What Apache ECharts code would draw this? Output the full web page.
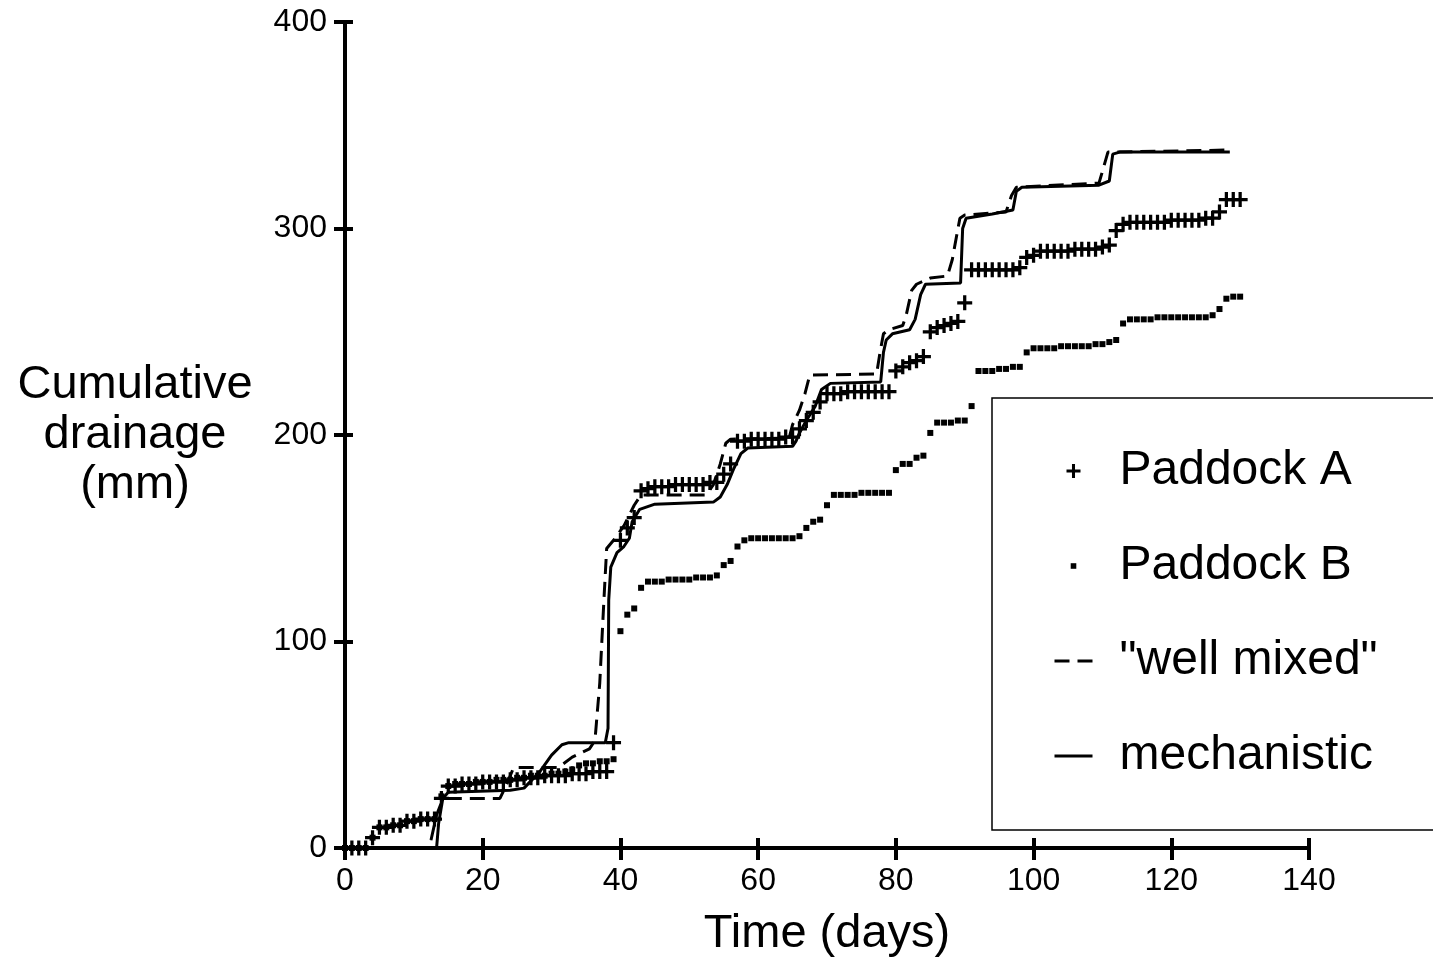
<!DOCTYPE html>
<html>
<head>
<meta charset="utf-8">
<script src="https://cdn.jsdelivr.net/npm/echarts@6/dist/echarts.min.js"></script>
<style>
html,body{margin:0;padding:0;background:#fff;}
#chart{width:1433px;height:960px;}
</style>
</head>
<body>
<div id="chart"></div>
<script>
// ---- data ----
const xTicks = [0, 20, 40, 60, 80, 100, 120, 140];
const yTicks = [0, 100, 200, 300, 400];
const seriesNames = ['Paddock A', 'Paddock B', '"well mixed"', 'mechanistic'];

// daily cumulative drainage (mm), day 0 .. 130
const paddockA = [
  0,0,0,0,
  5,
  10,10,11,11,
  13,13,14,14,14,
  24,
  30,30,31,31,31,32,32,32,32,33,
  33,34,34,34,35,35,35,35,36,36,36,37,37,37,
  51,
  149,155,160,
  173,174,175,175,175,176,176,176,176,176,177,177,
  181,186,
  197,197,198,198,198,198,198,199,199,
  203,207,211,216,
  220,220,220,221,221,221,221,221,221,221,
  231,233,235,236,238,
  250,252,253,254,255,
  264,
  280,280,280,280,280,280,280,281,
  286,287,289,289,289,289,289,290,290,290,290,291,292,
  299,
  302,303,303,303,303,303,303,304,304,304,304,304,305,305,
  308,
  314,314,314
];

const paddockB = [
  0,0,0,0,
  5,
  10,10,11,11,
  13,13,14,14,14,
  25,
  30,31,31,31,32,32,32,33,33,33,
  34,34,35,35,35,36,36,37,38,
  40,41,41,42,42,
  43,
  105,113,116,126,
  129,129,129,130,130,130,130,131,131,131,132,
  137,139,146,
  149,150,150,150,150,150,150,150,151,
  155,158,159,166,
  171,171,171,171,172,172,172,172,172,
  183,186,186,189,190,201,
  206,206,206,207,207,
  214,
  231,231,231,232,232,233,233,
  240,
  242,242,242,242,243,243,243,243,243,244,
  244,245,246,
  254,
  256,256,256,256,257,257,257,257,257,257,257,257,258,
  261,266,267,267
];

// model curves: [day, mm]
const wellMixed = [
  [0,0],[12.2,0],[12.5,4],[13.3,16],[14,22],[14.8,24],[22.5,24],[23.5,31],[24.5,39],[31,39],
  [33,44],[35.5,48],[36.3,52],[37,80],[37.6,120],[38,145],[39,149],[40.5,156],[42,166],[43,171],
  [52.5,171],[53.5,176],[54.5,186],[55.3,196],[56,198],[64.5,198.5],[65,205],[66,212],[66.8,220],
  [67.5,229],[77.2,229.5],[77.7,240],[78.2,249],[79,251],[81,253],[81.5,258],[82.3,270],[83,273],
  [85,276],[87.5,277],[88.2,285],[88.8,296],[89.3,305],[90,306.5],[96,308],[96.8,316],[97.5,320],
  [109.5,322],[110.2,330],[110.8,337],[128.5,338]
];

const mechanistic = [
  [0,0],[13.3,0],[13.6,12],[14.2,24],[15,27],[24,28],[26,29],[28.3,37],[30,45],[31.5,50],[32.5,51],
  [37.8,51],[38.2,58],[38.3,120],[38.6,136],[39.5,143],[40.5,146],[41.3,150],[41.7,158],[42.8,164],
  [45,166.5],[53.5,167.5],[54.5,170],[55.5,176],[56.5,184],[57.5,191],[58.5,193.7],[65,194.5],
  [65.5,197],[66,201],[67,207],[68.3,214],[69.2,222],[70.5,225],[77.8,225.7],[78.2,240],[78.6,246],
  [79.5,249],[82,251],[82.8,256],[83.6,268],[84.3,273],[89.4,273.6],[89.7,300],[90.2,305],[94,307],
  [97,309],[97.5,318],[98.3,320],[109.5,321],[111,323],[111.5,336],[112.5,337],[128.5,337]
];

// ---- chart ----
const FONT = '"Liberation Sans", Arial, Helvetica, sans-serif';
const INK = '#000';
const CLEAR = 'rgba(0,0,0,0)';
const plusPath = 'path://M4.7,0H7.3V4.7H12V7.3H7.3V12H4.7V7.3H0V4.7H4.7Z';
const dotPath = 'path://M0,0M15,15M4.5,4.5H10.5V10.5H4.5Z';

const xMin = xTicks[0], xMax = xTicks[xTicks.length - 1], xStep = xTicks[1] - xTicks[0];
const yMin = yTicks[0], yMax = yTicks[yTicks.length - 1], yStep = yTicks[1] - yTicks[0];

const gridLeft = 345, gridTop = 22, gridRight = 124, gridBottom = 112;
const plotW = 1433 - gridLeft - gridRight;
const plotH = 960 - gridTop - gridBottom;

const baseAxisLine = { show: true, onZero: false, lineStyle: { color: INK, width: 4 } };

const chart = echarts.init(document.getElementById('chart'), null, { renderer: 'canvas' });
chart.setOption({
  animation: false,
  backgroundColor: '#fff',
  grid: { left: gridLeft, top: gridTop, right: gridRight, bottom: gridBottom, containLabel: false, outerBoundsMode: 'none' },
  xAxis: [
    {
      type: 'value', min: xMin, max: xMax, interval: xStep, position: 'bottom',
      axisLine: baseAxisLine,
      axisTick: { show: true, length: 12, lineStyle: { color: INK, width: 4 } },
      axisLabel: { fontSize: 32, fontFamily: FONT, color: INK, margin: 17 },
      splitLine: { show: false },
      name: 'Time (days)', nameLocation: 'middle', nameGap: 63,
      nameTextStyle: { fontSize: 47, fontFamily: FONT, color: INK }
    },
    {
      type: 'value', min: xMin, max: xMax, interval: xStep, position: 'top', offset: -plotH,
      axisLine: { show: false, onZero: false },
      axisTick: { show: true, length: 10, lineStyle: { color: INK, width: 4 } },
      axisLabel: { show: false }, splitLine: { show: false }
    }
  ],
  yAxis: [
    {
      type: 'value', min: yMin, max: yMax, interval: yStep, position: 'left',
      axisLine: baseAxisLine,
      axisTick: { show: true, length: 11, lineStyle: { color: INK, width: 4 } },
      axisLabel: { fontSize: 32, fontFamily: FONT, color: INK, margin: 18 },
      splitLine: { show: false },
      name: 'Cumulative\ndrainage\n(mm)', nameLocation: 'middle', nameRotate: 0, nameGap: 210,
      nameTextStyle: { fontSize: 47, lineHeight: 50, fontFamily: FONT, color: INK, align: 'center', verticalAlign: 'middle', padding: [4, 0, 0, 0] }
    },
    {
      type: 'value', min: yMin, max: yMax, interval: yStep, position: 'right', offset: -plotW,
      axisLine: { show: false, onZero: false },
      axisTick: { show: true, length: 8, lineStyle: { color: INK, width: 4 } },
      axisLabel: { show: false }, splitLine: { show: false }
    }
  ],
  legend: {
    orient: 'vertical',
    left: 992, top: 398,
    padding: [49, 320, 50, 61],
    itemGap: 47,
    itemWidth: 38, itemHeight: 14,
    borderColor: INK, borderWidth: 1.5,
    selectedMode: false,
    formatter: function (name) { return '{p|}' + name; },
    textStyle: {
      fontSize: 48, lineHeight: 48, fontFamily: FONT, color: INK,
      rich: { p: { width: 22, lineHeight: 48 } }
    },
    data: [
      { name: seriesNames[0], icon: plusPath, itemStyle: { color: INK, opacity: 1 } },
      { name: seriesNames[1], icon: dotPath, itemStyle: { color: INK, opacity: 1 } },
      { name: seriesNames[2], itemStyle: { color: CLEAR, borderColor: CLEAR, borderWidth: 0 },
        lineStyle: { color: INK, width: 3, type: [15, 8] } },
      { name: seriesNames[3], itemStyle: { color: CLEAR, borderColor: CLEAR, borderWidth: 0 },
        lineStyle: { color: INK, width: 3, type: 'solid' } }
    ]
  },
  series: [
    {
      name: seriesNames[0], type: 'scatter', xAxisIndex: 0, yAxisIndex: 0,
      symbol: plusPath, symbolSize: 15,
      itemStyle: { color: INK, opacity: 1 },
      data: paddockA.map(function (v, d) { return [d, v]; }),
      z: 3
    },
    {
      name: seriesNames[1], type: 'scatter', xAxisIndex: 0, yAxisIndex: 0,
      symbol: 'rect', symbolSize: 6,
      itemStyle: { color: INK, opacity: 1 },
      data: paddockB.map(function (v, d) { return [d, v]; }),
      z: 3
    },
    {
      name: seriesNames[2], type: 'line', xAxisIndex: 0, yAxisIndex: 0,
      symbol: 'none', showSymbol: false,
      lineStyle: { color: INK, width: 3, type: [15, 8] },
      itemStyle: { color: INK },
      data: wellMixed, z: 2
    },
    {
      name: seriesNames[3], type: 'line', xAxisIndex: 0, yAxisIndex: 0,
      symbol: 'none', showSymbol: false,
      lineStyle: { color: INK, width: 3, type: 'solid' },
      itemStyle: { color: INK },
      data: mechanistic, z: 2
    }
  ]
});
</script>
</body>
</html>
